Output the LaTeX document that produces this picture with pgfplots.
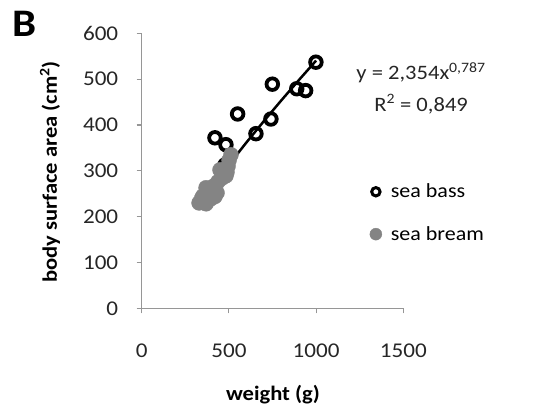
\documentclass[border=0pt]{standalone}
\usepackage{pgfplots}
\pgfplotsset{compat=1.18}
\usepackage{fontspec}
\setmainfont{Carlito}[FakeStretch=1.1]
\definecolor{axgray}{RGB}{150,150,150}
\definecolor{breamgray}{RGB}{132,132,132}
\begin{document}
\begin{tikzpicture}[x=1pt,y=1pt]
\path[use as bounding box] (-141.7,-98.7) rectangle (393.3,308.3);
\begin{axis}[
  at={(0,0)}, anchor=origin,
  scale only axis, width=261.6pt, height=275pt,
  xmin=0, xmax=1500, ymin=0, ymax=600,
  axis x line*=bottom, axis y line*=left,
  axis line style={axgray, line width=1.2pt, -},
  xtick={0,500,1000,1500}, ytick={0,100,...,600},
  tick style={axgray, line width=1.2pt},
  tick align=outside, major tick length=5pt,
  ticklabel style={font=\fontsize{21}{24}\selectfont, text=black!85},
  xticklabel style={yshift=-27pt},
  yticklabel style={xshift=-15pt},
  /pgf/number format/assume math mode=true,
  /pgf/number format/1000 sep={},
  xlabel={\textbf{weight (g)}}, ylabel={\textbf{body surface area (cm\textsuperscript{2})}},
  label style={font=\fontsize{20.5}{24}\selectfont},
  xlabel style={at={(axis description cs:0.502,-0.315)}, anchor=center},
  ylabel style={at={(axis description cs:-0.35,0.496)}, anchor=center},
  clip=false,
  legend style={at={(rel axis cs:0.86,0.467)}, anchor=north west, draw=none, fill=none,
    font=\fontsize{20}{24}\selectfont, row sep=23pt, /tikz/every odd column/.append style={column sep=7pt}},
  legend cell align=left,
]
\addplot[only marks, mark=o, mark size=5.8pt, line width=3.8pt, black, legend image post style={mark size=4.2pt, line width=3pt}] coordinates {
(999,537) (749,489) (889,479) (940,475) (550,424) (741,413) (655,381) (420,372) (483,357) (478,313)
};
\addlegendentry{sea bass}
\addplot[only marks, mark=*, mark size=7.5pt, breamgray, mark options={draw=breamgray, fill=breamgray}, legend image post style={mark size=6pt}] coordinates {
(329,230) (369,228) (351,245) (386,258) (414,267) (437,276) (460,284) (489,297) (495,310) (501,323) (512,335) (483,289) (432,252) (397,239) (369,263) (449,302) (344,240) (420,244)
};
\addlegendentry{sea bream}
\addplot[black, line width=2.5pt, forget plot] coordinates {
(350,236.6) (400,262.8) (500,313.3) (600,361.6) (700,408.2) (800,453.4) (900,497.4) (1000,540.5)
};
\node[font=\fontsize{20.5}{24}\selectfont, text=black!85] at (rel axis cs:1.068,0.856) {y = 2,354x\textsuperscript{0,787}};
\node[font=\fontsize{20.5}{24}\selectfont, text=black!85] at (rel axis cs:1.068,0.743) {R\textsuperscript{2} = 0,849};
\end{axis}
\node[font=\fontsize{39}{40}\selectfont\bfseries, anchor=base west] at (-133,271.3) {B};
\end{tikzpicture}
\end{document}
